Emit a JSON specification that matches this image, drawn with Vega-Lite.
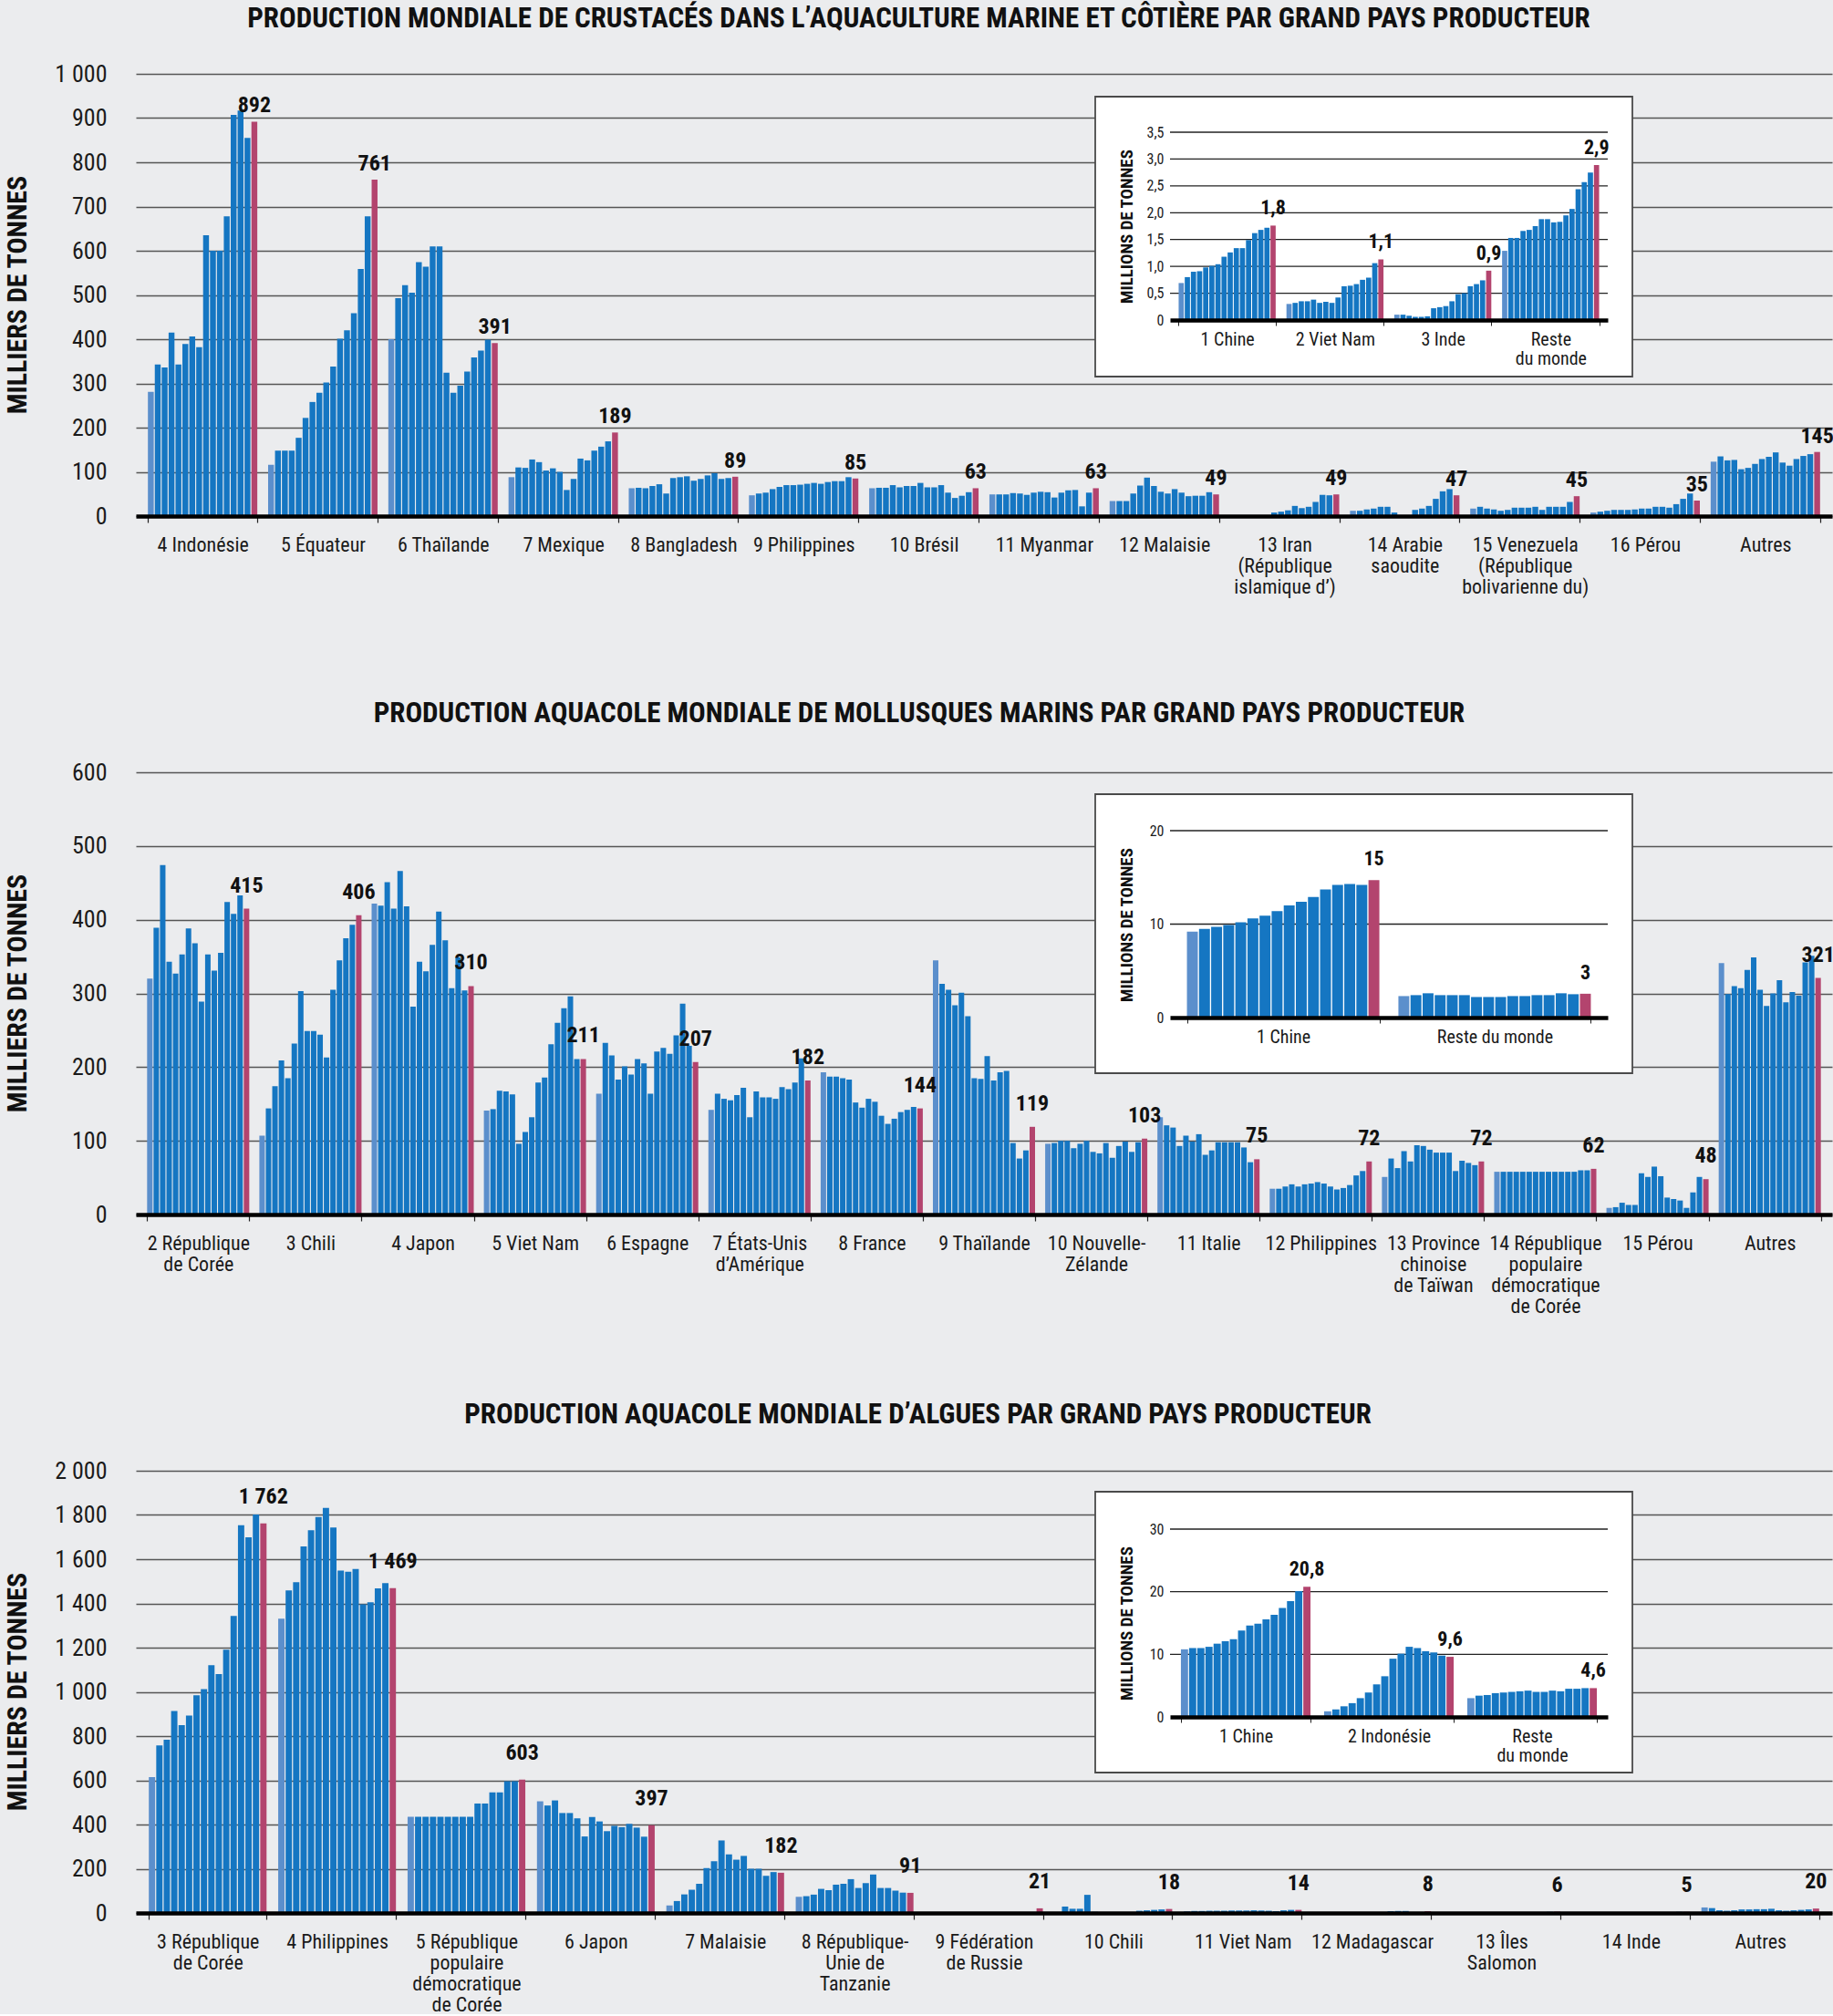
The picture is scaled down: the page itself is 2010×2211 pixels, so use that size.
{
"$schema": "https://vega.github.io/schema/vega-lite/v6.json",
"background": "#ebecee",
"padding": {"left": 3, "top": 5, "right": 0, "bottom": 0},
"spacing": 281,
"bounds": "flush",
"config": {
  "view": {"stroke": null},
  "font": "Liberation Sans Narrow, Roboto Condensed, DejaVu Sans Condensed, Arial Narrow, sans-serif",
  "locale": {"number": {"decimal": ",", "thousands": "\u00a0", "grouping": [3], "currency": ["", "\u00a0€"]}},
  "title": {"fontSize": 31, "fontWeight": "bold", "color": "#111111", "anchor": "middle", "baseline": "alphabetic", "frame": "bounds"}
},
"datasets": {
"crust": [
{"g":"4 Indonésie","t":1995,"v":281},{"g":"4 Indonésie","t":1996,"v":343},{"g":"4 Indonésie","t":1997,"v":336},{"g":"4 Indonésie","t":1998,"v":415},{"g":"4 Indonésie","t":1999,"v":343},{"g":"4 Indonésie","t":2000,"v":389},{"g":"4 Indonésie","t":2001,"v":406},{"g":"4 Indonésie","t":2002,"v":382},{"g":"4 Indonésie","t":2003,"v":635},{"g":"4 Indonésie","t":2004,"v":600},{"g":"4 Indonésie","t":2005,"v":600},{"g":"4 Indonésie","t":2006,"v":678},{"g":"4 Indonésie","t":2007,"v":907},{"g":"4 Indonésie","t":2008,"v":917},{"g":"4 Indonésie","t":2009,"v":855},{"g":"4 Indonésie","t":2010,"v":892},
{"g":"5 Équateur","t":1995,"v":116},{"g":"5 Équateur","t":1996,"v":148},{"g":"5 Équateur","t":1997,"v":148},{"g":"5 Équateur","t":1998,"v":148},{"g":"5 Équateur","t":1999,"v":177},{"g":"5 Équateur","t":2000,"v":222},{"g":"5 Équateur","t":2001,"v":258},{"g":"5 Équateur","t":2002,"v":279},{"g":"5 Équateur","t":2003,"v":302},{"g":"5 Équateur","t":2004,"v":338},{"g":"5 Équateur","t":2005,"v":401},{"g":"5 Équateur","t":2006,"v":420},{"g":"5 Équateur","t":2007,"v":459},{"g":"5 Équateur","t":2008,"v":559},{"g":"5 Équateur","t":2009,"v":678},{"g":"5 Équateur","t":2010,"v":761},
{"g":"6 Thaïlande","t":1995,"v":400},{"g":"6 Thaïlande","t":1996,"v":493},{"g":"6 Thaïlande","t":1997,"v":522},{"g":"6 Thaïlande","t":1998,"v":505},{"g":"6 Thaïlande","t":1999,"v":574},{"g":"6 Thaïlande","t":2000,"v":564},{"g":"6 Thaïlande","t":2001,"v":610},{"g":"6 Thaïlande","t":2002,"v":610},{"g":"6 Thaïlande","t":2003,"v":324},{"g":"6 Thaïlande","t":2004,"v":279},{"g":"6 Thaïlande","t":2005,"v":295},{"g":"6 Thaïlande","t":2006,"v":327},{"g":"6 Thaïlande","t":2007,"v":359},{"g":"6 Thaïlande","t":2008,"v":374},{"g":"6 Thaïlande","t":2009,"v":399},{"g":"6 Thaïlande","t":2010,"v":391},
{"g":"7 Mexique","t":1995,"v":88},{"g":"7 Mexique","t":1996,"v":110},{"g":"7 Mexique","t":1997,"v":109},{"g":"7 Mexique","t":1998,"v":128},{"g":"7 Mexique","t":1999,"v":122},{"g":"7 Mexique","t":2000,"v":103},{"g":"7 Mexique","t":2001,"v":108},{"g":"7 Mexique","t":2002,"v":100},{"g":"7 Mexique","t":2003,"v":59},{"g":"7 Mexique","t":2004,"v":84},{"g":"7 Mexique","t":2005,"v":130},{"g":"7 Mexique","t":2006,"v":126},{"g":"7 Mexique","t":2007,"v":148},{"g":"7 Mexique","t":2008,"v":157},{"g":"7 Mexique","t":2009,"v":169},{"g":"7 Mexique","t":2010,"v":189},
{"g":"8 Bangladesh","t":1995,"v":63},{"g":"8 Bangladesh","t":1996,"v":64},{"g":"8 Bangladesh","t":1997,"v":63},{"g":"8 Bangladesh","t":1998,"v":68},{"g":"8 Bangladesh","t":1999,"v":72},{"g":"8 Bangladesh","t":2000,"v":51},{"g":"8 Bangladesh","t":2001,"v":86},{"g":"8 Bangladesh","t":2002,"v":88},{"g":"8 Bangladesh","t":2003,"v":90},{"g":"8 Bangladesh","t":2004,"v":80},{"g":"8 Bangladesh","t":2005,"v":84},{"g":"8 Bangladesh","t":2006,"v":92},{"g":"8 Bangladesh","t":2007,"v":97},{"g":"8 Bangladesh","t":2008,"v":84},{"g":"8 Bangladesh","t":2009,"v":86},{"g":"8 Bangladesh","t":2010,"v":89},
{"g":"9 Philippines","t":1995,"v":47},{"g":"9 Philippines","t":1996,"v":51},{"g":"9 Philippines","t":1997,"v":53},{"g":"9 Philippines","t":1998,"v":61},{"g":"9 Philippines","t":1999,"v":66},{"g":"9 Philippines","t":2000,"v":70},{"g":"9 Philippines","t":2001,"v":70},{"g":"9 Philippines","t":2002,"v":71},{"g":"9 Philippines","t":2003,"v":73},{"g":"9 Philippines","t":2004,"v":75},{"g":"9 Philippines","t":2005,"v":73},{"g":"9 Philippines","t":2006,"v":77},{"g":"9 Philippines","t":2007,"v":79},{"g":"9 Philippines","t":2008,"v":79},{"g":"9 Philippines","t":2009,"v":88},{"g":"9 Philippines","t":2010,"v":85},
{"g":"10 Brésil","t":1995,"v":63},{"g":"10 Brésil","t":1996,"v":64},{"g":"10 Brésil","t":1997,"v":64},{"g":"10 Brésil","t":1998,"v":70},{"g":"10 Brésil","t":1999,"v":65},{"g":"10 Brésil","t":2000,"v":68},{"g":"10 Brésil","t":2001,"v":68},{"g":"10 Brésil","t":2002,"v":75},{"g":"10 Brésil","t":2003,"v":65},{"g":"10 Brésil","t":2004,"v":65},{"g":"10 Brésil","t":2005,"v":70},{"g":"10 Brésil","t":2006,"v":53},{"g":"10 Brésil","t":2007,"v":41},{"g":"10 Brésil","t":2008,"v":46},{"g":"10 Brésil","t":2009,"v":54},{"g":"10 Brésil","t":2010,"v":63},
{"g":"11 Myanmar","t":1995,"v":49},{"g":"11 Myanmar","t":1996,"v":49},{"g":"11 Myanmar","t":1997,"v":49},{"g":"11 Myanmar","t":1998,"v":52},{"g":"11 Myanmar","t":1999,"v":51},{"g":"11 Myanmar","t":2000,"v":48},{"g":"11 Myanmar","t":2001,"v":53},{"g":"11 Myanmar","t":2002,"v":55},{"g":"11 Myanmar","t":2003,"v":54},{"g":"11 Myanmar","t":2004,"v":42},{"g":"11 Myanmar","t":2005,"v":53},{"g":"11 Myanmar","t":2006,"v":58},{"g":"11 Myanmar","t":2007,"v":59},{"g":"11 Myanmar","t":2008,"v":22},{"g":"11 Myanmar","t":2009,"v":53},{"g":"11 Myanmar","t":2010,"v":63},
{"g":"12 Malaisie","t":1995,"v":34},{"g":"12 Malaisie","t":1996,"v":34},{"g":"12 Malaisie","t":1997,"v":34},{"g":"12 Malaisie","t":1998,"v":51},{"g":"12 Malaisie","t":1999,"v":69},{"g":"12 Malaisie","t":2000,"v":87},{"g":"12 Malaisie","t":2001,"v":68},{"g":"12 Malaisie","t":2002,"v":55},{"g":"12 Malaisie","t":2003,"v":51},{"g":"12 Malaisie","t":2004,"v":61},{"g":"12 Malaisie","t":2005,"v":53},{"g":"12 Malaisie","t":2006,"v":45},{"g":"12 Malaisie","t":2007,"v":46},{"g":"12 Malaisie","t":2008,"v":46},{"g":"12 Malaisie","t":2009,"v":54},{"g":"12 Malaisie","t":2010,"v":49},
{"g":"13 Iran\n(République\nislamique d’)","t":1995,"v":0},{"g":"13 Iran\n(République\nislamique d’)","t":1996,"v":0},{"g":"13 Iran\n(République\nislamique d’)","t":1997,"v":0},{"g":"13 Iran\n(République\nislamique d’)","t":1998,"v":0},{"g":"13 Iran\n(République\nislamique d’)","t":1999,"v":0},{"g":"13 Iran\n(République\nislamique d’)","t":2000,"v":0},{"g":"13 Iran\n(République\nislamique d’)","t":2001,"v":8},{"g":"13 Iran\n(République\nislamique d’)","t":2002,"v":10},{"g":"13 Iran\n(République\nislamique d’)","t":2003,"v":13},{"g":"13 Iran\n(République\nislamique d’)","t":2004,"v":23},{"g":"13 Iran\n(République\nislamique d’)","t":2005,"v":18},{"g":"13 Iran\n(République\nislamique d’)","t":2006,"v":21},{"g":"13 Iran\n(République\nislamique d’)","t":2007,"v":32},{"g":"13 Iran\n(République\nislamique d’)","t":2008,"v":48},{"g":"13 Iran\n(République\nislamique d’)","t":2009,"v":47},{"g":"13 Iran\n(République\nislamique d’)","t":2010,"v":49},
{"g":"14 Arabie\nsaoudite","t":1995,"v":12},{"g":"14 Arabie\nsaoudite","t":1996,"v":12},{"g":"14 Arabie\nsaoudite","t":1997,"v":15},{"g":"14 Arabie\nsaoudite","t":1998,"v":17},{"g":"14 Arabie\nsaoudite","t":1999,"v":21},{"g":"14 Arabie\nsaoudite","t":2000,"v":21},{"g":"14 Arabie\nsaoudite","t":2001,"v":8},{"g":"14 Arabie\nsaoudite","t":2002,"v":0},{"g":"14 Arabie\nsaoudite","t":2003,"v":0},{"g":"14 Arabie\nsaoudite","t":2004,"v":14},{"g":"14 Arabie\nsaoudite","t":2005,"v":17},{"g":"14 Arabie\nsaoudite","t":2006,"v":23},{"g":"14 Arabie\nsaoudite","t":2007,"v":39},{"g":"14 Arabie\nsaoudite","t":2008,"v":56},{"g":"14 Arabie\nsaoudite","t":2009,"v":61},{"g":"14 Arabie\nsaoudite","t":2010,"v":47},
{"g":"15 Venezuela\n(République\nbolivarienne du)","t":1995,"v":17},{"g":"15 Venezuela\n(République\nbolivarienne du)","t":1996,"v":21},{"g":"15 Venezuela\n(République\nbolivarienne du)","t":1997,"v":17},{"g":"15 Venezuela\n(République\nbolivarienne du)","t":1998,"v":15},{"g":"15 Venezuela\n(République\nbolivarienne du)","t":1999,"v":12},{"g":"15 Venezuela\n(République\nbolivarienne du)","t":2000,"v":14},{"g":"15 Venezuela\n(République\nbolivarienne du)","t":2001,"v":19},{"g":"15 Venezuela\n(République\nbolivarienne du)","t":2002,"v":19},{"g":"15 Venezuela\n(République\nbolivarienne du)","t":2003,"v":19},{"g":"15 Venezuela\n(République\nbolivarienne du)","t":2004,"v":21},{"g":"15 Venezuela\n(République\nbolivarienne du)","t":2005,"v":14},{"g":"15 Venezuela\n(République\nbolivarienne du)","t":2006,"v":21},{"g":"15 Venezuela\n(République\nbolivarienne du)","t":2007,"v":21},{"g":"15 Venezuela\n(République\nbolivarienne du)","t":2008,"v":21},{"g":"15 Venezuela\n(République\nbolivarienne du)","t":2009,"v":32},{"g":"15 Venezuela\n(République\nbolivarienne du)","t":2010,"v":45},
{"g":"16 Pérou","t":1995,"v":8},{"g":"16 Pérou","t":1996,"v":10},{"g":"16 Pérou","t":1997,"v":12},{"g":"16 Pérou","t":1998,"v":14},{"g":"16 Pérou","t":1999,"v":14},{"g":"16 Pérou","t":2000,"v":14},{"g":"16 Pérou","t":2001,"v":15},{"g":"16 Pérou","t":2002,"v":17},{"g":"16 Pérou","t":2003,"v":17},{"g":"16 Pérou","t":2004,"v":21},{"g":"16 Pérou","t":2005,"v":21},{"g":"16 Pérou","t":2006,"v":19},{"g":"16 Pérou","t":2007,"v":27},{"g":"16 Pérou","t":2008,"v":39},{"g":"16 Pérou","t":2009,"v":51},{"g":"16 Pérou","t":2010,"v":35},
{"g":"Autres","t":1995,"v":123},{"g":"Autres","t":1996,"v":135},{"g":"Autres","t":1997,"v":126},{"g":"Autres","t":1998,"v":127},{"g":"Autres","t":1999,"v":106},{"g":"Autres","t":2000,"v":109},{"g":"Autres","t":2001,"v":118},{"g":"Autres","t":2002,"v":129},{"g":"Autres","t":2003,"v":134},{"g":"Autres","t":2004,"v":144},{"g":"Autres","t":2005,"v":121},{"g":"Autres","t":2006,"v":114},{"g":"Autres","t":2007,"v":129},{"g":"Autres","t":2008,"v":136},{"g":"Autres","t":2009,"v":140},{"g":"Autres","t":2010,"v":145}
],
"crustIn": [
{"g":"1 Chine","t":1995,"v":0.69},{"g":"1 Chine","t":1996,"v":0.80},{"g":"1 Chine","t":1997,"v":0.90},{"g":"1 Chine","t":1998,"v":0.91},{"g":"1 Chine","t":1999,"v":0.98},{"g":"1 Chine","t":2000,"v":1.01},{"g":"1 Chine","t":2001,"v":1.04},{"g":"1 Chine","t":2002,"v":1.18},{"g":"1 Chine","t":2003,"v":1.26},{"g":"1 Chine","t":2004,"v":1.34},{"g":"1 Chine","t":2005,"v":1.34},{"g":"1 Chine","t":2006,"v":1.49},{"g":"1 Chine","t":2007,"v":1.62},{"g":"1 Chine","t":2008,"v":1.68},{"g":"1 Chine","t":2009,"v":1.72},{"g":"1 Chine","t":2010,"v":1.76},
{"g":"2 Viet Nam","t":1995,"v":0.30},{"g":"2 Viet Nam","t":1996,"v":0.32},{"g":"2 Viet Nam","t":1997,"v":0.35},{"g":"2 Viet Nam","t":1998,"v":0.35},{"g":"2 Viet Nam","t":1999,"v":0.38},{"g":"2 Viet Nam","t":2000,"v":0.32},{"g":"2 Viet Nam","t":2001,"v":0.34},{"g":"2 Viet Nam","t":2002,"v":0.32},{"g":"2 Viet Nam","t":2003,"v":0.42},{"g":"2 Viet Nam","t":2004,"v":0.63},{"g":"2 Viet Nam","t":2005,"v":0.64},{"g":"2 Viet Nam","t":2006,"v":0.67},{"g":"2 Viet Nam","t":2007,"v":0.75},{"g":"2 Viet Nam","t":2008,"v":0.79},{"g":"2 Viet Nam","t":2009,"v":1.06},{"g":"2 Viet Nam","t":2010,"v":1.13},
{"g":"3 Inde","t":1995,"v":0.10},{"g":"3 Inde","t":1996,"v":0.10},{"g":"3 Inde","t":1997,"v":0.08},{"g":"3 Inde","t":1998,"v":0.06},{"g":"3 Inde","t":1999,"v":0.06},{"g":"3 Inde","t":2000,"v":0.07},{"g":"3 Inde","t":2001,"v":0.22},{"g":"3 Inde","t":2002,"v":0.24},{"g":"3 Inde","t":2003,"v":0.26},{"g":"3 Inde","t":2004,"v":0.35},{"g":"3 Inde","t":2005,"v":0.48},{"g":"3 Inde","t":2006,"v":0.50},{"g":"3 Inde","t":2007,"v":0.63},{"g":"3 Inde","t":2008,"v":0.67},{"g":"3 Inde","t":2009,"v":0.74},{"g":"3 Inde","t":2010,"v":0.92},
{"g":"Reste\ndu monde","t":1995,"v":1.29},{"g":"Reste\ndu monde","t":1996,"v":1.53},{"g":"Reste\ndu monde","t":1997,"v":1.53},{"g":"Reste\ndu monde","t":1998,"v":1.66},{"g":"Reste\ndu monde","t":1999,"v":1.68},{"g":"Reste\ndu monde","t":2000,"v":1.75},{"g":"Reste\ndu monde","t":2001,"v":1.88},{"g":"Reste\ndu monde","t":2002,"v":1.88},{"g":"Reste\ndu monde","t":2003,"v":1.82},{"g":"Reste\ndu monde","t":2004,"v":1.83},{"g":"Reste\ndu monde","t":2005,"v":1.95},{"g":"Reste\ndu monde","t":2006,"v":2.07},{"g":"Reste\ndu monde","t":2007,"v":2.44},{"g":"Reste\ndu monde","t":2008,"v":2.57},{"g":"Reste\ndu monde","t":2009,"v":2.75},{"g":"Reste\ndu monde","t":2010,"v":2.89}
],
"moll": [
{"g":"2 République\nde Corée","t":1995,"v":320},{"g":"2 République\nde Corée","t":1996,"v":389},{"g":"2 République\nde Corée","t":1997,"v":474},{"g":"2 République\nde Corée","t":1998,"v":343},{"g":"2 République\nde Corée","t":1999,"v":327},{"g":"2 République\nde Corée","t":2000,"v":353},{"g":"2 République\nde Corée","t":2001,"v":388},{"g":"2 République\nde Corée","t":2002,"v":368},{"g":"2 République\nde Corée","t":2003,"v":289},{"g":"2 République\nde Corée","t":2004,"v":353},{"g":"2 République\nde Corée","t":2005,"v":331},{"g":"2 République\nde Corée","t":2006,"v":355},{"g":"2 République\nde Corée","t":2007,"v":424},{"g":"2 République\nde Corée","t":2008,"v":408},{"g":"2 République\nde Corée","t":2009,"v":433},{"g":"2 République\nde Corée","t":2010,"v":415},
{"g":"3 Chili","t":1995,"v":107},{"g":"3 Chili","t":1996,"v":144},{"g":"3 Chili","t":1997,"v":174},{"g":"3 Chili","t":1998,"v":209},{"g":"3 Chili","t":1999,"v":185},{"g":"3 Chili","t":2000,"v":232},{"g":"3 Chili","t":2001,"v":303},{"g":"3 Chili","t":2002,"v":249},{"g":"3 Chili","t":2003,"v":249},{"g":"3 Chili","t":2004,"v":244},{"g":"3 Chili","t":2005,"v":213},{"g":"3 Chili","t":2006,"v":305},{"g":"3 Chili","t":2007,"v":345},{"g":"3 Chili","t":2008,"v":375},{"g":"3 Chili","t":2009,"v":393},{"g":"3 Chili","t":2010,"v":406},
{"g":"4 Japon","t":1995,"v":422},{"g":"4 Japon","t":1996,"v":419},{"g":"4 Japon","t":1997,"v":451},{"g":"4 Japon","t":1998,"v":415},{"g":"4 Japon","t":1999,"v":466},{"g":"4 Japon","t":2000,"v":418},{"g":"4 Japon","t":2001,"v":282},{"g":"4 Japon","t":2002,"v":343},{"g":"4 Japon","t":2003,"v":330},{"g":"4 Japon","t":2004,"v":366},{"g":"4 Japon","t":2005,"v":411},{"g":"4 Japon","t":2006,"v":372},{"g":"4 Japon","t":2007,"v":307},{"g":"4 Japon","t":2008,"v":349},{"g":"4 Japon","t":2009,"v":304},{"g":"4 Japon","t":2010,"v":310},
{"g":"5 Viet Nam","t":1995,"v":141},{"g":"5 Viet Nam","t":1996,"v":143},{"g":"5 Viet Nam","t":1997,"v":168},{"g":"5 Viet Nam","t":1998,"v":167},{"g":"5 Viet Nam","t":1999,"v":163},{"g":"5 Viet Nam","t":2000,"v":96},{"g":"5 Viet Nam","t":2001,"v":112},{"g":"5 Viet Nam","t":2002,"v":132},{"g":"5 Viet Nam","t":2003,"v":179},{"g":"5 Viet Nam","t":2004,"v":186},{"g":"5 Viet Nam","t":2005,"v":231},{"g":"5 Viet Nam","t":2006,"v":260},{"g":"5 Viet Nam","t":2007,"v":280},{"g":"5 Viet Nam","t":2008,"v":296},{"g":"5 Viet Nam","t":2009,"v":211},{"g":"5 Viet Nam","t":2010,"v":211},
{"g":"6 Espagne","t":1995,"v":164},{"g":"6 Espagne","t":1996,"v":233},{"g":"6 Espagne","t":1997,"v":216},{"g":"6 Espagne","t":1998,"v":183},{"g":"6 Espagne","t":1999,"v":201},{"g":"6 Espagne","t":2000,"v":190},{"g":"6 Espagne","t":2001,"v":211},{"g":"6 Espagne","t":2002,"v":205},{"g":"6 Espagne","t":2003,"v":164},{"g":"6 Espagne","t":2004,"v":221},{"g":"6 Espagne","t":2005,"v":226},{"g":"6 Espagne","t":2006,"v":218},{"g":"6 Espagne","t":2007,"v":243},{"g":"6 Espagne","t":2008,"v":286},{"g":"6 Espagne","t":2009,"v":229},{"g":"6 Espagne","t":2010,"v":207},
{"g":"7 États-Unis\nd’Amérique","t":1995,"v":142},{"g":"7 États-Unis\nd’Amérique","t":1996,"v":164},{"g":"7 États-Unis\nd’Amérique","t":1997,"v":157},{"g":"7 États-Unis\nd’Amérique","t":1998,"v":155},{"g":"7 États-Unis\nd’Amérique","t":1999,"v":162},{"g":"7 États-Unis\nd’Amérique","t":2000,"v":172},{"g":"7 États-Unis\nd’Amérique","t":2001,"v":132},{"g":"7 États-Unis\nd’Amérique","t":2002,"v":167},{"g":"7 États-Unis\nd’Amérique","t":2003,"v":159},{"g":"7 États-Unis\nd’Amérique","t":2004,"v":159},{"g":"7 États-Unis\nd’Amérique","t":2005,"v":157},{"g":"7 États-Unis\nd’Amérique","t":2006,"v":173},{"g":"7 États-Unis\nd’Amérique","t":2007,"v":170},{"g":"7 États-Unis\nd’Amérique","t":2008,"v":179},{"g":"7 États-Unis\nd’Amérique","t":2009,"v":212},{"g":"7 États-Unis\nd’Amérique","t":2010,"v":182},
{"g":"8 France","t":1995,"v":193},{"g":"8 France","t":1996,"v":187},{"g":"8 France","t":1997,"v":187},{"g":"8 France","t":1998,"v":185},{"g":"8 France","t":1999,"v":183},{"g":"8 France","t":2000,"v":152},{"g":"8 France","t":2001,"v":145},{"g":"8 France","t":2002,"v":157},{"g":"8 France","t":2003,"v":153},{"g":"8 France","t":2004,"v":134},{"g":"8 France","t":2005,"v":123},{"g":"8 France","t":2006,"v":130},{"g":"8 France","t":2007,"v":139},{"g":"8 France","t":2008,"v":142},{"g":"8 France","t":2009,"v":146},{"g":"8 France","t":2010,"v":144},
{"g":"9 Thaïlande","t":1995,"v":345},{"g":"9 Thaïlande","t":1996,"v":313},{"g":"9 Thaïlande","t":1997,"v":305},{"g":"9 Thaïlande","t":1998,"v":284},{"g":"9 Thaïlande","t":1999,"v":301},{"g":"9 Thaïlande","t":2000,"v":269},{"g":"9 Thaïlande","t":2001,"v":185},{"g":"9 Thaïlande","t":2002,"v":184},{"g":"9 Thaïlande","t":2003,"v":215},{"g":"9 Thaïlande","t":2004,"v":182},{"g":"9 Thaïlande","t":2005,"v":193},{"g":"9 Thaïlande","t":2006,"v":195},{"g":"9 Thaïlande","t":2007,"v":97},{"g":"9 Thaïlande","t":2008,"v":76},{"g":"9 Thaïlande","t":2009,"v":87},{"g":"9 Thaïlande","t":2010,"v":119},
{"g":"10 Nouvelle-\nZélande","t":1995,"v":96},{"g":"10 Nouvelle-\nZélande","t":1996,"v":97},{"g":"10 Nouvelle-\nZélande","t":1997,"v":100},{"g":"10 Nouvelle-\nZélande","t":1998,"v":100},{"g":"10 Nouvelle-\nZélande","t":1999,"v":90},{"g":"10 Nouvelle-\nZélande","t":2000,"v":96},{"g":"10 Nouvelle-\nZélande","t":2001,"v":100},{"g":"10 Nouvelle-\nZélande","t":2002,"v":85},{"g":"10 Nouvelle-\nZélande","t":2003,"v":83},{"g":"10 Nouvelle-\nZélande","t":2004,"v":97},{"g":"10 Nouvelle-\nZélande","t":2005,"v":77},{"g":"10 Nouvelle-\nZélande","t":2006,"v":93},{"g":"10 Nouvelle-\nZélande","t":2007,"v":99},{"g":"10 Nouvelle-\nZélande","t":2008,"v":85},{"g":"10 Nouvelle-\nZélande","t":2009,"v":98},{"g":"10 Nouvelle-\nZélande","t":2010,"v":103},
{"g":"11 Italie","t":1995,"v":132},{"g":"11 Italie","t":1996,"v":121},{"g":"11 Italie","t":1997,"v":118},{"g":"11 Italie","t":1998,"v":93},{"g":"11 Italie","t":1999,"v":107},{"g":"11 Italie","t":2000,"v":99},{"g":"11 Italie","t":2001,"v":109},{"g":"11 Italie","t":2002,"v":81},{"g":"11 Italie","t":2003,"v":87},{"g":"11 Italie","t":2004,"v":98},{"g":"11 Italie","t":2005,"v":98},{"g":"11 Italie","t":2006,"v":98},{"g":"11 Italie","t":2007,"v":98},{"g":"11 Italie","t":2008,"v":91},{"g":"11 Italie","t":2009,"v":71},{"g":"11 Italie","t":2010,"v":75},
{"g":"12 Philippines","t":1995,"v":35},{"g":"12 Philippines","t":1996,"v":35},{"g":"12 Philippines","t":1997,"v":38},{"g":"12 Philippines","t":1998,"v":41},{"g":"12 Philippines","t":1999,"v":38},{"g":"12 Philippines","t":2000,"v":41},{"g":"12 Philippines","t":2001,"v":42},{"g":"12 Philippines","t":2002,"v":44},{"g":"12 Philippines","t":2003,"v":42},{"g":"12 Philippines","t":2004,"v":38},{"g":"12 Philippines","t":2005,"v":34},{"g":"12 Philippines","t":2006,"v":36},{"g":"12 Philippines","t":2007,"v":40},{"g":"12 Philippines","t":2008,"v":53},{"g":"12 Philippines","t":2009,"v":59},{"g":"12 Philippines","t":2010,"v":72},
{"g":"13 Province\nchinoise\nde Taïwan","t":1995,"v":51},{"g":"13 Province\nchinoise\nde Taïwan","t":1996,"v":76},{"g":"13 Province\nchinoise\nde Taïwan","t":1997,"v":63},{"g":"13 Province\nchinoise\nde Taïwan","t":1998,"v":86},{"g":"13 Province\nchinoise\nde Taïwan","t":1999,"v":72},{"g":"13 Province\nchinoise\nde Taïwan","t":2000,"v":94},{"g":"13 Province\nchinoise\nde Taïwan","t":2001,"v":93},{"g":"13 Province\nchinoise\nde Taïwan","t":2002,"v":88},{"g":"13 Province\nchinoise\nde Taïwan","t":2003,"v":84},{"g":"13 Province\nchinoise\nde Taïwan","t":2004,"v":84},{"g":"13 Province\nchinoise\nde Taïwan","t":2005,"v":84},{"g":"13 Province\nchinoise\nde Taïwan","t":2006,"v":59},{"g":"13 Province\nchinoise\nde Taïwan","t":2007,"v":73},{"g":"13 Province\nchinoise\nde Taïwan","t":2008,"v":70},{"g":"13 Province\nchinoise\nde Taïwan","t":2009,"v":67},{"g":"13 Province\nchinoise\nde Taïwan","t":2010,"v":72},
{"g":"14 République\npopulaire\ndémocratique\nde Corée","t":1995,"v":58},{"g":"14 République\npopulaire\ndémocratique\nde Corée","t":1996,"v":58},{"g":"14 République\npopulaire\ndémocratique\nde Corée","t":1997,"v":58},{"g":"14 République\npopulaire\ndémocratique\nde Corée","t":1998,"v":58},{"g":"14 République\npopulaire\ndémocratique\nde Corée","t":1999,"v":58},{"g":"14 République\npopulaire\ndémocratique\nde Corée","t":2000,"v":58},{"g":"14 République\npopulaire\ndémocratique\nde Corée","t":2001,"v":58},{"g":"14 République\npopulaire\ndémocratique\nde Corée","t":2002,"v":58},{"g":"14 République\npopulaire\ndémocratique\nde Corée","t":2003,"v":58},{"g":"14 République\npopulaire\ndémocratique\nde Corée","t":2004,"v":58},{"g":"14 République\npopulaire\ndémocratique\nde Corée","t":2005,"v":58},{"g":"14 République\npopulaire\ndémocratique\nde Corée","t":2006,"v":58},{"g":"14 République\npopulaire\ndémocratique\nde Corée","t":2007,"v":58},{"g":"14 République\npopulaire\ndémocratique\nde Corée","t":2008,"v":60},{"g":"14 République\npopulaire\ndémocratique\nde Corée","t":2009,"v":60},{"g":"14 République\npopulaire\ndémocratique\nde Corée","t":2010,"v":62},
{"g":"15 Pérou","t":1995,"v":9},{"g":"15 Pérou","t":1996,"v":10},{"g":"15 Pérou","t":1997,"v":16},{"g":"15 Pérou","t":1998,"v":13},{"g":"15 Pérou","t":1999,"v":13},{"g":"15 Pérou","t":2000,"v":56},{"g":"15 Pérou","t":2001,"v":51},{"g":"15 Pérou","t":2002,"v":65},{"g":"15 Pérou","t":2003,"v":52},{"g":"15 Pérou","t":2004,"v":23},{"g":"15 Pérou","t":2005,"v":21},{"g":"15 Pérou","t":2006,"v":19},{"g":"15 Pérou","t":2007,"v":9},{"g":"15 Pérou","t":2008,"v":30},{"g":"15 Pérou","t":2009,"v":51},{"g":"15 Pérou","t":2010,"v":48},
{"g":"Autres","t":1995,"v":341},{"g":"Autres","t":1996,"v":299},{"g":"Autres","t":1997,"v":310},{"g":"Autres","t":1998,"v":307},{"g":"Autres","t":1999,"v":332},{"g":"Autres","t":2000,"v":349},{"g":"Autres","t":2001,"v":305},{"g":"Autres","t":2002,"v":283},{"g":"Autres","t":2003,"v":300},{"g":"Autres","t":2004,"v":318},{"g":"Autres","t":2005,"v":288},{"g":"Autres","t":2006,"v":302},{"g":"Autres","t":2007,"v":297},{"g":"Autres","t":2008,"v":342},{"g":"Autres","t":2009,"v":351},{"g":"Autres","t":2010,"v":321}
],
"mollIn": [
{"g":"1 Chine","t":1995,"v":9.2},{"g":"1 Chine","t":1996,"v":9.5},{"g":"1 Chine","t":1997,"v":9.7},{"g":"1 Chine","t":1998,"v":9.9},{"g":"1 Chine","t":1999,"v":10.2},{"g":"1 Chine","t":2000,"v":10.6},{"g":"1 Chine","t":2001,"v":10.9},{"g":"1 Chine","t":2002,"v":11.4},{"g":"1 Chine","t":2003,"v":12.0},{"g":"1 Chine","t":2004,"v":12.4},{"g":"1 Chine","t":2005,"v":12.9},{"g":"1 Chine","t":2006,"v":13.7},{"g":"1 Chine","t":2007,"v":14.2},{"g":"1 Chine","t":2008,"v":14.3},{"g":"1 Chine","t":2009,"v":14.2},{"g":"1 Chine","t":2010,"v":14.7},
{"g":"Reste du monde","t":1995,"v":2.3},{"g":"Reste du monde","t":1996,"v":2.4},{"g":"Reste du monde","t":1997,"v":2.6},{"g":"Reste du monde","t":1998,"v":2.4},{"g":"Reste du monde","t":1999,"v":2.4},{"g":"Reste du monde","t":2000,"v":2.4},{"g":"Reste du monde","t":2001,"v":2.2},{"g":"Reste du monde","t":2002,"v":2.2},{"g":"Reste du monde","t":2003,"v":2.2},{"g":"Reste du monde","t":2004,"v":2.3},{"g":"Reste du monde","t":2005,"v":2.3},{"g":"Reste du monde","t":2006,"v":2.4},{"g":"Reste du monde","t":2007,"v":2.4},{"g":"Reste du monde","t":2008,"v":2.6},{"g":"Reste du monde","t":2009,"v":2.5},{"g":"Reste du monde","t":2010,"v":2.55}
],
"alg": [
{"g":"3 République\nde Corée","t":1995,"v":614},{"g":"3 République\nde Corée","t":1996,"v":758},{"g":"3 République\nde Corée","t":1997,"v":784},{"g":"3 République\nde Corée","t":1998,"v":913},{"g":"3 République\nde Corée","t":1999,"v":850},{"g":"3 République\nde Corée","t":2000,"v":893},{"g":"3 République\nde Corée","t":2001,"v":985},{"g":"3 République\nde Corée","t":2002,"v":1012},{"g":"3 République\nde Corée","t":2003,"v":1121},{"g":"3 République\nde Corée","t":2004,"v":1080},{"g":"3 République\nde Corée","t":2005,"v":1191},{"g":"3 République\nde Corée","t":2006,"v":1343},{"g":"3 République\nde Corée","t":2007,"v":1754},{"g":"3 République\nde Corée","t":2008,"v":1699},{"g":"3 République\nde Corée","t":2009,"v":1802},{"g":"3 République\nde Corée","t":2010,"v":1762},
{"g":"4 Philippines","t":1995,"v":1331},{"g":"4 Philippines","t":1996,"v":1459},{"g":"4 Philippines","t":1997,"v":1496},{"g":"4 Philippines","t":1998,"v":1658},{"g":"4 Philippines","t":1999,"v":1731},{"g":"4 Philippines","t":2000,"v":1791},{"g":"4 Philippines","t":2001,"v":1832},{"g":"4 Philippines","t":2002,"v":1743},{"g":"4 Philippines","t":2003,"v":1548},{"g":"4 Philippines","t":2004,"v":1543},{"g":"4 Philippines","t":2005,"v":1556},{"g":"4 Philippines","t":2006,"v":1396},{"g":"4 Philippines","t":2007,"v":1405},{"g":"4 Philippines","t":2008,"v":1468},{"g":"4 Philippines","t":2009,"v":1492},{"g":"4 Philippines","t":2010,"v":1469},
{"g":"5 République\npopulaire\ndémocratique\nde Corée","t":1995,"v":435},{"g":"5 République\npopulaire\ndémocratique\nde Corée","t":1996,"v":435},{"g":"5 République\npopulaire\ndémocratique\nde Corée","t":1997,"v":435},{"g":"5 République\npopulaire\ndémocratique\nde Corée","t":1998,"v":435},{"g":"5 République\npopulaire\ndémocratique\nde Corée","t":1999,"v":435},{"g":"5 République\npopulaire\ndémocratique\nde Corée","t":2000,"v":435},{"g":"5 République\npopulaire\ndémocratique\nde Corée","t":2001,"v":435},{"g":"5 République\npopulaire\ndémocratique\nde Corée","t":2002,"v":435},{"g":"5 République\npopulaire\ndémocratique\nde Corée","t":2003,"v":435},{"g":"5 République\npopulaire\ndémocratique\nde Corée","t":2004,"v":495},{"g":"5 République\npopulaire\ndémocratique\nde Corée","t":2005,"v":495},{"g":"5 République\npopulaire\ndémocratique\nde Corée","t":2006,"v":545},{"g":"5 République\npopulaire\ndémocratique\nde Corée","t":2007,"v":545},{"g":"5 République\npopulaire\ndémocratique\nde Corée","t":2008,"v":596},{"g":"5 République\npopulaire\ndémocratique\nde Corée","t":2009,"v":596},{"g":"5 République\npopulaire\ndémocratique\nde Corée","t":2010,"v":603},
{"g":"6 Japon","t":1995,"v":505},{"g":"6 Japon","t":1996,"v":486},{"g":"6 Japon","t":1997,"v":509},{"g":"6 Japon","t":1998,"v":452},{"g":"6 Japon","t":1999,"v":452},{"g":"6 Japon","t":2000,"v":428},{"g":"6 Japon","t":2001,"v":346},{"g":"6 Japon","t":2002,"v":434},{"g":"6 Japon","t":2003,"v":414},{"g":"6 Japon","t":2004,"v":370},{"g":"6 Japon","t":2005,"v":394},{"g":"6 Japon","t":2006,"v":388},{"g":"6 Japon","t":2007,"v":403},{"g":"6 Japon","t":2008,"v":386},{"g":"6 Japon","t":2009,"v":345},{"g":"6 Japon","t":2010,"v":397},
{"g":"7 Malaisie","t":1995,"v":34},{"g":"7 Malaisie","t":1996,"v":54},{"g":"7 Malaisie","t":1997,"v":84},{"g":"7 Malaisie","t":1998,"v":105},{"g":"7 Malaisie","t":1999,"v":132},{"g":"7 Malaisie","t":2000,"v":203},{"g":"7 Malaisie","t":2001,"v":234},{"g":"7 Malaisie","t":2002,"v":328},{"g":"7 Malaisie","t":2003,"v":265},{"g":"7 Malaisie","t":2004,"v":241},{"g":"7 Malaisie","t":2005,"v":258},{"g":"7 Malaisie","t":2006,"v":200},{"g":"7 Malaisie","t":2007,"v":200},{"g":"7 Malaisie","t":2008,"v":168},{"g":"7 Malaisie","t":2009,"v":185},{"g":"7 Malaisie","t":2010,"v":182},
{"g":"8 République-\nUnie de\nTanzanie","t":1995,"v":73},{"g":"8 République-\nUnie de\nTanzanie","t":1996,"v":76},{"g":"8 République-\nUnie de\nTanzanie","t":1997,"v":83},{"g":"8 République-\nUnie de\nTanzanie","t":1998,"v":109},{"g":"8 République-\nUnie de\nTanzanie","t":1999,"v":103},{"g":"8 République-\nUnie de\nTanzanie","t":2000,"v":128},{"g":"8 République-\nUnie de\nTanzanie","t":2001,"v":132},{"g":"8 République-\nUnie de\nTanzanie","t":2002,"v":153},{"g":"8 République-\nUnie de\nTanzanie","t":2003,"v":113},{"g":"8 République-\nUnie de\nTanzanie","t":2004,"v":135},{"g":"8 République-\nUnie de\nTanzanie","t":2005,"v":174},{"g":"8 République-\nUnie de\nTanzanie","t":2006,"v":113},{"g":"8 République-\nUnie de\nTanzanie","t":2007,"v":113},{"g":"8 République-\nUnie de\nTanzanie","t":2008,"v":101},{"g":"8 République-\nUnie de\nTanzanie","t":2009,"v":92},{"g":"8 République-\nUnie de\nTanzanie","t":2010,"v":91},
{"g":"9 Fédération\nde Russie","t":1995,"v":0},{"g":"9 Fédération\nde Russie","t":1996,"v":0},{"g":"9 Fédération\nde Russie","t":1997,"v":0},{"g":"9 Fédération\nde Russie","t":1998,"v":0},{"g":"9 Fédération\nde Russie","t":1999,"v":0},{"g":"9 Fédération\nde Russie","t":2000,"v":0},{"g":"9 Fédération\nde Russie","t":2001,"v":0},{"g":"9 Fédération\nde Russie","t":2002,"v":0},{"g":"9 Fédération\nde Russie","t":2003,"v":0},{"g":"9 Fédération\nde Russie","t":2004,"v":0},{"g":"9 Fédération\nde Russie","t":2005,"v":0},{"g":"9 Fédération\nde Russie","t":2006,"v":0},{"g":"9 Fédération\nde Russie","t":2007,"v":0},{"g":"9 Fédération\nde Russie","t":2008,"v":0},{"g":"9 Fédération\nde Russie","t":2009,"v":1},{"g":"9 Fédération\nde Russie","t":2010,"v":21},
{"g":"10 Chili","t":1995,"v":4},{"g":"10 Chili","t":1996,"v":29},{"g":"10 Chili","t":1997,"v":19},{"g":"10 Chili","t":1998,"v":19},{"g":"10 Chili","t":1999,"v":82},{"g":"10 Chili","t":2000,"v":5},{"g":"10 Chili","t":2001,"v":3},{"g":"10 Chili","t":2002,"v":2},{"g":"10 Chili","t":2003,"v":2},{"g":"10 Chili","t":2004,"v":2},{"g":"10 Chili","t":2005,"v":3},{"g":"10 Chili","t":2006,"v":10},{"g":"10 Chili","t":2007,"v":12},{"g":"10 Chili","t":2008,"v":14},{"g":"10 Chili","t":2009,"v":16},{"g":"10 Chili","t":2010,"v":18},
{"g":"11 Viet Nam","t":1995,"v":8},{"g":"11 Viet Nam","t":1996,"v":9},{"g":"11 Viet Nam","t":1997,"v":9},{"g":"11 Viet Nam","t":1998,"v":10},{"g":"11 Viet Nam","t":1999,"v":10},{"g":"11 Viet Nam","t":2000,"v":10},{"g":"11 Viet Nam","t":2001,"v":11},{"g":"11 Viet Nam","t":2002,"v":11},{"g":"11 Viet Nam","t":2003,"v":11},{"g":"11 Viet Nam","t":2004,"v":12},{"g":"11 Viet Nam","t":2005,"v":11},{"g":"11 Viet Nam","t":2006,"v":10},{"g":"11 Viet Nam","t":2007,"v":8},{"g":"11 Viet Nam","t":2008,"v":12},{"g":"11 Viet Nam","t":2009,"v":14},{"g":"11 Viet Nam","t":2010,"v":14},
{"g":"12 Madagascar","t":1995,"v":0},{"g":"12 Madagascar","t":1996,"v":0},{"g":"12 Madagascar","t":1997,"v":0},{"g":"12 Madagascar","t":1998,"v":0},{"g":"12 Madagascar","t":1999,"v":0},{"g":"12 Madagascar","t":2000,"v":0},{"g":"12 Madagascar","t":2001,"v":0},{"g":"12 Madagascar","t":2002,"v":0},{"g":"12 Madagascar","t":2003,"v":0},{"g":"12 Madagascar","t":2004,"v":1},{"g":"12 Madagascar","t":2005,"v":8},{"g":"12 Madagascar","t":2006,"v":9},{"g":"12 Madagascar","t":2007,"v":9},{"g":"12 Madagascar","t":2008,"v":3},{"g":"12 Madagascar","t":2009,"v":3},{"g":"12 Madagascar","t":2010,"v":8},
{"g":"13 Îles\nSalomon","t":1995,"v":0},{"g":"13 Îles\nSalomon","t":1996,"v":0},{"g":"13 Îles\nSalomon","t":1997,"v":0},{"g":"13 Îles\nSalomon","t":1998,"v":0},{"g":"13 Îles\nSalomon","t":1999,"v":0},{"g":"13 Îles\nSalomon","t":2000,"v":0},{"g":"13 Îles\nSalomon","t":2001,"v":0},{"g":"13 Îles\nSalomon","t":2002,"v":0},{"g":"13 Îles\nSalomon","t":2003,"v":1},{"g":"13 Îles\nSalomon","t":2004,"v":2},{"g":"13 Îles\nSalomon","t":2005,"v":3},{"g":"13 Îles\nSalomon","t":2006,"v":3},{"g":"13 Îles\nSalomon","t":2007,"v":4},{"g":"13 Îles\nSalomon","t":2008,"v":4},{"g":"13 Îles\nSalomon","t":2009,"v":5},{"g":"13 Îles\nSalomon","t":2010,"v":6},
{"g":"14 Inde","t":1995,"v":1},{"g":"14 Inde","t":1996,"v":1},{"g":"14 Inde","t":1997,"v":1},{"g":"14 Inde","t":1998,"v":1},{"g":"14 Inde","t":1999,"v":2},{"g":"14 Inde","t":2000,"v":2},{"g":"14 Inde","t":2001,"v":2},{"g":"14 Inde","t":2002,"v":2},{"g":"14 Inde","t":2003,"v":3},{"g":"14 Inde","t":2004,"v":3},{"g":"14 Inde","t":2005,"v":3},{"g":"14 Inde","t":2006,"v":4},{"g":"14 Inde","t":2007,"v":4},{"g":"14 Inde","t":2008,"v":4},{"g":"14 Inde","t":2009,"v":5},{"g":"14 Inde","t":2010,"v":5},
{"g":"Autres","t":1995,"v":25},{"g":"Autres","t":1996,"v":22},{"g":"Autres","t":1997,"v":12},{"g":"Autres","t":1998,"v":10},{"g":"Autres","t":1999,"v":12},{"g":"Autres","t":2000,"v":16},{"g":"Autres","t":2001,"v":16},{"g":"Autres","t":2002,"v":17},{"g":"Autres","t":2003,"v":17},{"g":"Autres","t":2004,"v":19},{"g":"Autres","t":2005,"v":12},{"g":"Autres","t":2006,"v":10},{"g":"Autres","t":2007,"v":12},{"g":"Autres","t":2008,"v":14},{"g":"Autres","t":2009,"v":16},{"g":"Autres","t":2010,"v":20}
],
"algIn": [
{"g":"1 Chine","t":1995,"v":10.8},{"g":"1 Chine","t":1996,"v":11.0},{"g":"1 Chine","t":1997,"v":11.0},{"g":"1 Chine","t":1998,"v":11.2},{"g":"1 Chine","t":1999,"v":11.7},{"g":"1 Chine","t":2000,"v":12.1},{"g":"1 Chine","t":2001,"v":12.4},{"g":"1 Chine","t":2002,"v":13.8},{"g":"1 Chine","t":2003,"v":14.6},{"g":"1 Chine","t":2004,"v":14.9},{"g":"1 Chine","t":2005,"v":15.6},{"g":"1 Chine","t":2006,"v":16.3},{"g":"1 Chine","t":2007,"v":17.4},{"g":"1 Chine","t":2008,"v":18.5},{"g":"1 Chine","t":2009,"v":20.1},{"g":"1 Chine","t":2010,"v":20.8},
{"g":"2 Indonésie","t":1995,"v":0.9},{"g":"2 Indonésie","t":1996,"v":1.2},{"g":"2 Indonésie","t":1997,"v":1.7},{"g":"2 Indonésie","t":1998,"v":2.2},{"g":"2 Indonésie","t":1999,"v":3.0},{"g":"2 Indonésie","t":2000,"v":3.9},{"g":"2 Indonésie","t":2001,"v":5.2},{"g":"2 Indonésie","t":2002,"v":6.5},{"g":"2 Indonésie","t":2003,"v":9.3},{"g":"2 Indonésie","t":2004,"v":10.1},{"g":"2 Indonésie","t":2005,"v":11.2},{"g":"2 Indonésie","t":2006,"v":11.0},{"g":"2 Indonésie","t":2007,"v":10.5},{"g":"2 Indonésie","t":2008,"v":10.3},{"g":"2 Indonésie","t":2009,"v":9.8},{"g":"2 Indonésie","t":2010,"v":9.6},
{"g":"Reste\ndu monde","t":1995,"v":3.0},{"g":"Reste\ndu monde","t":1996,"v":3.4},{"g":"Reste\ndu monde","t":1997,"v":3.5},{"g":"Reste\ndu monde","t":1998,"v":3.8},{"g":"Reste\ndu monde","t":1999,"v":3.9},{"g":"Reste\ndu monde","t":2000,"v":4.0},{"g":"Reste\ndu monde","t":2001,"v":4.1},{"g":"Reste\ndu monde","t":2002,"v":4.2},{"g":"Reste\ndu monde","t":2003,"v":4.0},{"g":"Reste\ndu monde","t":2004,"v":4.0},{"g":"Reste\ndu monde","t":2005,"v":4.2},{"g":"Reste\ndu monde","t":2006,"v":4.1},{"g":"Reste\ndu monde","t":2007,"v":4.5},{"g":"Reste\ndu monde","t":2008,"v":4.5},{"g":"Reste\ndu monde","t":2009,"v":4.6},{"g":"Reste\ndu monde","t":2010,"v":4.6}
]
},
"vconcat": [
{
"title": {"text": "PRODUCTION MONDIALE DE CRUSTACÉS DANS L’AQUACULTURE MARINE ET CÔTIÈRE PAR GRAND PAYS PRODUCTEUR", "offset": 31},
"width": 1860, "height": 485,
"resolve": {"scale": {"x": "independent", "y": "independent", "xOffset": "independent"}, "axis": {"x": "independent", "y": "independent"}},
"layer": [
 {"data": {"name": "crust"},
  "layer": [
   {"mark": {"type": "bar"},
    "encoding": {
     "x": {"field": "g", "type": "nominal", "sort": null, "scale": {"paddingInner": 0.09, "paddingOuter": 0.1},
       "axis": {"title": null, "labelExpr": "split(datum.label, '\\n')", "labelAngle": 0, "labelFontSize": 22, "labelLineHeight": 23, "labelPadding": 14, "labelColor": "#1a1a1a", "labelLimit": 400, "labelOverlap": false, "domainColor": "#000000", "domainWidth": 4.5, "ticks": true, "tickBand": "extent", "tickSize": 7, "tickColor": "#222222", "tickWidth": 1.2, "grid": false, "zindex": 1}},
     "xOffset": {"field": "t", "type": "ordinal", "scale": {"paddingInner": 0.15, "paddingOuter": 0}},
     "y": {"field": "v", "type": "quantitative", "scale": {"domain": [0, 1000], "nice": false},
       "axis": {"title": "MILLIERS DE TONNES", "values": [0,100,200,300,400,500,600,700,800,900,1000], "format": ",d", "grid": true, "gridColor": "#555555", "gridWidth": 1.5, "domain": false, "ticks": false, "tickSize": 0, "labelFontSize": 26, "labelPadding": 32, "labelColor": "#1a1a1a", "titleFontSize": 30, "titleFontWeight": "bold", "titleColor": "#111111", "titleX": -130, "titleY": 242, "titleAngle": -90, "titleBaseline": "middle", "titleAlign": "center"}},
     "color": {"condition": [{"test": "datum.t === 1995", "value": "#5b8fcc"}, {"test": "datum.t === 2010", "value": "#b3446e"}], "value": "#1576c2"}
    }},
   {"transform": [{"filter": "datum.t === 2010"}],
    "mark": {"type": "text", "baseline": "alphabetic", "dy": -10, "fontSize": 24, "fontWeight": "bold", "color": "#111111"},
    "encoding": {
     "x": {"field": "g", "type": "nominal", "sort": null},
     "xOffset": {"field": "t", "type": "ordinal"},
     "y": {"field": "v", "type": "quantitative"},
     "text": {"field": "v", "type": "quantitative", "format": ",d"}
    }}
  ]},
 {"data": {"values": [{}]},
  "mark": {"type": "rect", "fill": "#ffffff", "stroke": "#4a4a4a", "strokeWidth": 1.8},
  "encoding": {
   "x": {"datum": 0, "type": "quantitative", "scale": {"domain": [0, 1], "range": [1052, 1641]}, "axis": null},
   "x2": {"datum": 1},
   "y": {"datum": 0, "type": "quantitative", "scale": {"domain": [0, 1], "range": [332, 25]}, "axis": null},
   "y2": {"datum": 1}
  }},
 {"data": {"values": [{"v": 0.5}, {"v": 1}, {"v": 1.5}, {"v": 2}, {"v": 2.5}, {"v": 3}, {"v": 3.5}]},
  "mark": {"type": "rule", "color": "#222222", "strokeWidth": 1.3},
  "encoding": {
   "y": {"field": "v", "type": "quantitative", "scale": {"domain": [0, 3.5], "range": [270, 64], "nice": false}, "axis": null},
   "x": {"datum": 0, "type": "quantitative", "scale": {"domain": [0, 1], "range": [1134, 1614]}, "axis": null},
   "x2": {"datum": 1}
  }},
 {"data": {"name": "crustIn"},
  "layer": [
   {"mark": {"type": "bar"},
    "encoding": {
     "x": {"field": "g", "type": "nominal", "sort": null, "scale": {"range": [1134, 1614], "paddingInner": 0.1, "paddingOuter": 0.08},
       "axis": {"title": null, "orient": "bottom", "offset": -215, "labelExpr": "split(datum.label, '\\n')", "labelAngle": 0, "labelFontSize": 20, "labelLineHeight": 21, "labelPadding": 5, "labelColor": "#1a1a1a", "labelOverlap": false, "domainColor": "#000000", "domainWidth": 4.5, "ticks": true, "tickBand": "extent", "tickSize": 6, "tickColor": "#222222", "grid": false, "zindex": 1}},
     "xOffset": {"field": "t", "type": "ordinal", "scale": {"paddingInner": 0.15, "paddingOuter": 0}},
     "y": {"field": "v", "type": "quantitative", "scale": {"domain": [0, 3.5], "range": [270, 64], "nice": false},
       "axis": {"orient": "left", "offset": -1134, "zindex": 1, "grid": false, "domain": false, "ticks": false, "tickSize": 0, "values": [0, 0.5, 1, 1.5, 2, 2.5, 3, 3.5], "labelExpr": "datum.value === 0 ? '0' : format(datum.value, '.1f')", "labelFontSize": 16, "labelPadding": 7, "labelColor": "#1a1a1a", "title": "MILLIONS DE TONNES", "titleFontSize": 19, "titleFontWeight": "bold", "titleColor": "#111111", "titleX": -48, "titleY": 167, "titleAngle": -90, "titleBaseline": "middle", "titleAlign": "center"}},
     "color": {"condition": [{"test": "datum.t === 1995", "value": "#5b8fcc"}, {"test": "datum.t === 2010", "value": "#b3446e"}], "value": "#1576c2"}
    }},
   {"transform": [{"filter": "datum.t === 2010"}],
    "mark": {"type": "text", "baseline": "alphabetic", "dy": -12, "fontSize": 22, "fontWeight": "bold", "color": "#111111"},
    "encoding": {
     "x": {"field": "g", "type": "nominal", "sort": null},
     "xOffset": {"field": "t", "type": "ordinal"},
     "y": {"field": "v", "type": "quantitative"},
     "text": {"field": "v", "type": "quantitative", "format": ",.1f"}
    }}
  ]}
]
},
{
"title": {"text": "PRODUCTION AQUACOLE MONDIALE DE MOLLUSQUES MARINS PAR GRAND PAYS PRODUCTEUR", "offset": 35},
"width": 1860, "height": 485,
"resolve": {"scale": {"x": "independent", "y": "independent", "xOffset": "independent"}, "axis": {"x": "independent", "y": "independent"}},
"layer": [
 {"data": {"name": "moll"},
  "layer": [
   {"mark": {"type": "bar"},
    "encoding": {
     "x": {"field": "g", "type": "nominal", "sort": null, "scale": {"paddingInner": 0.09, "paddingOuter": 0.1},
       "axis": {"title": null, "labelExpr": "split(datum.label, '\\n')", "labelAngle": 0, "labelFontSize": 22, "labelLineHeight": 23, "labelPadding": 14, "labelColor": "#1a1a1a", "labelLimit": 400, "labelOverlap": false, "domainColor": "#000000", "domainWidth": 4.5, "ticks": true, "tickBand": "extent", "tickSize": 7, "tickColor": "#222222", "tickWidth": 1.2, "grid": false, "zindex": 1}},
     "xOffset": {"field": "t", "type": "ordinal", "scale": {"paddingInner": 0.15, "paddingOuter": 0}},
     "y": {"field": "v", "type": "quantitative", "scale": {"domain": [0, 600], "nice": false},
       "axis": {"title": "MILLIERS DE TONNES", "values": [0,100,200,300,400,500,600], "format": ",d", "grid": true, "gridColor": "#555555", "gridWidth": 1.5, "domain": false, "ticks": false, "tickSize": 0, "labelFontSize": 26, "labelPadding": 32, "labelColor": "#1a1a1a", "titleFontSize": 30, "titleFontWeight": "bold", "titleColor": "#111111", "titleX": -130, "titleY": 242, "titleAngle": -90, "titleBaseline": "middle", "titleAlign": "center"}},
     "color": {"condition": [{"test": "datum.t === 1995", "value": "#5b8fcc"}, {"test": "datum.t === 2010", "value": "#b3446e"}], "value": "#1576c2"}
    }},
   {"transform": [{"filter": "datum.t === 2010"}],
    "mark": {"type": "text", "baseline": "alphabetic", "dy": -18, "fontSize": 24, "fontWeight": "bold", "color": "#111111"},
    "encoding": {
     "x": {"field": "g", "type": "nominal", "sort": null},
     "xOffset": {"field": "t", "type": "ordinal"},
     "y": {"field": "v", "type": "quantitative"},
     "text": {"field": "v", "type": "quantitative", "format": ",d"}
    }}
  ]},
 {"data": {"values": [{}]},
  "mark": {"type": "rect", "fill": "#ffffff", "stroke": "#4a4a4a", "strokeWidth": 1.8},
  "encoding": {
   "x": {"datum": 0, "type": "quantitative", "scale": {"domain": [0, 1], "range": [1052, 1641]}, "axis": null},
   "x2": {"datum": 1},
   "y": {"datum": 0, "type": "quantitative", "scale": {"domain": [0, 1], "range": [330, 24]}, "axis": null},
   "y2": {"datum": 1}
  }},
 {"data": {"values": [{"v": 10}, {"v": 20}]},
  "mark": {"type": "rule", "color": "#222222", "strokeWidth": 1.3},
  "encoding": {
   "y": {"field": "v", "type": "quantitative", "scale": {"domain": [0, 20], "range": [269, 64], "nice": false}, "axis": null},
   "x": {"datum": 0, "type": "quantitative", "scale": {"domain": [0, 1], "range": [1134, 1614]}, "axis": null},
   "x2": {"datum": 1}
  }},
 {"data": {"name": "mollIn"},
  "layer": [
   {"mark": {"type": "bar"},
    "encoding": {
     "x": {"field": "g", "type": "nominal", "sort": null, "scale": {"range": [1134, 1614], "paddingInner": 0.09, "paddingOuter": 0.08},
       "axis": {"title": null, "orient": "bottom", "offset": -216, "labelExpr": "split(datum.label, '\\n')", "labelAngle": 0, "labelFontSize": 20, "labelLineHeight": 21, "labelPadding": 5, "labelColor": "#1a1a1a", "labelOverlap": false, "domainColor": "#000000", "domainWidth": 4.5, "ticks": true, "tickBand": "extent", "tickSize": 6, "tickColor": "#222222", "grid": false, "zindex": 1}},
     "xOffset": {"field": "t", "type": "ordinal", "scale": {"paddingInner": 0.1, "paddingOuter": 0}},
     "y": {"field": "v", "type": "quantitative", "scale": {"domain": [0, 20], "range": [269, 64], "nice": false},
       "axis": {"orient": "left", "offset": -1134, "zindex": 1, "grid": false, "domain": false, "ticks": false, "tickSize": 0, "values": [0, 10, 20], "format": "d", "labelFontSize": 16, "labelPadding": 7, "labelColor": "#1a1a1a", "title": "MILLIONS DE TONNES", "titleFontSize": 19, "titleFontWeight": "bold", "titleColor": "#111111", "titleX": -48, "titleY": 167, "titleAngle": -90, "titleBaseline": "middle", "titleAlign": "center"}},
     "color": {"condition": [{"test": "datum.t === 1995", "value": "#5b8fcc"}, {"test": "datum.t === 2010", "value": "#b3446e"}], "value": "#1576c2"}
    }},
   {"transform": [{"filter": "datum.t === 2010"}],
    "mark": {"type": "text", "baseline": "alphabetic", "dy": -16, "fontSize": 22, "fontWeight": "bold", "color": "#111111"},
    "encoding": {
     "x": {"field": "g", "type": "nominal", "sort": null},
     "xOffset": {"field": "t", "type": "ordinal"},
     "y": {"field": "v", "type": "quantitative"},
     "text": {"field": "v", "type": "quantitative", "format": ".0f"}
    }}
  ]}
]
},
{
"title": {"text": "PRODUCTION AQUACOLE MONDIALE D’ALGUES PAR GRAND PAYS PRODUCTEUR", "offset": 32},
"width": 1860, "height": 485,
"resolve": {"scale": {"x": "independent", "y": "independent", "xOffset": "independent"}, "axis": {"x": "independent", "y": "independent"}},
"layer": [
 {"data": {"name": "alg"},
  "layer": [
   {"mark": {"type": "bar"},
    "encoding": {
     "x": {"field": "g", "type": "nominal", "sort": null, "scale": {"paddingInner": 0.09, "paddingOuter": 0.1},
       "axis": {"title": null, "labelExpr": "split(datum.label, '\\n')", "labelAngle": 0, "labelFontSize": 22, "labelLineHeight": 23, "labelPadding": 14, "labelColor": "#1a1a1a", "labelLimit": 400, "labelOverlap": false, "domainColor": "#000000", "domainWidth": 4.5, "ticks": true, "tickBand": "extent", "tickSize": 7, "tickColor": "#222222", "tickWidth": 1.2, "grid": false, "zindex": 1}},
     "xOffset": {"field": "t", "type": "ordinal", "scale": {"paddingInner": 0.15, "paddingOuter": 0}},
     "y": {"field": "v", "type": "quantitative", "scale": {"domain": [0, 2000], "nice": false},
       "axis": {"title": "MILLIERS DE TONNES", "values": [0,200,400,600,800,1000,1200,1400,1600,1800,2000], "format": ",d", "grid": true, "gridColor": "#555555", "gridWidth": 1.5, "domain": false, "ticks": false, "tickSize": 0, "labelFontSize": 26, "labelPadding": 32, "labelColor": "#1a1a1a", "titleFontSize": 30, "titleFontWeight": "bold", "titleColor": "#111111", "titleX": -130, "titleY": 242, "titleAngle": -90, "titleBaseline": "middle", "titleAlign": "center"}},
     "color": {"condition": [{"test": "datum.t === 1995", "value": "#5b8fcc"}, {"test": "datum.t === 2010", "value": "#b3446e"}], "value": "#1576c2"}
    }},
   {"transform": [{"filter": "datum.t === 2010"}],
    "mark": {"type": "text", "baseline": "alphabetic", "dy": -22, "fontSize": 24, "fontWeight": "bold", "color": "#111111"},
    "encoding": {
     "x": {"field": "g", "type": "nominal", "sort": null},
     "xOffset": {"field": "t", "type": "ordinal"},
     "y": {"field": "v", "type": "quantitative"},
     "text": {"field": "v", "type": "quantitative", "format": ",d"}
    }}
  ]},
 {"data": {"values": [{}]},
  "mark": {"type": "rect", "fill": "#ffffff", "stroke": "#4a4a4a", "strokeWidth": 1.8},
  "encoding": {
   "x": {"datum": 0, "type": "quantitative", "scale": {"domain": [0, 1], "range": [1052, 1641]}, "axis": null},
   "x2": {"datum": 1},
   "y": {"datum": 0, "type": "quantitative", "scale": {"domain": [0, 1], "range": [331, 23]}, "axis": null},
   "y2": {"datum": 1}
  }},
 {"data": {"values": [{"v": 10}, {"v": 20}, {"v": 30}]},
  "mark": {"type": "rule", "color": "#222222", "strokeWidth": 1.3},
  "encoding": {
   "y": {"field": "v", "type": "quantitative", "scale": {"domain": [0, 30], "range": [270, 64], "nice": false}, "axis": null},
   "x": {"datum": 0, "type": "quantitative", "scale": {"domain": [0, 1], "range": [1134, 1614]}, "axis": null},
   "x2": {"datum": 1}
  }},
 {"data": {"name": "algIn"},
  "layer": [
   {"mark": {"type": "bar"},
    "encoding": {
     "x": {"field": "g", "type": "nominal", "sort": null, "scale": {"range": [1134, 1614], "paddingInner": 0.095, "paddingOuter": 0.076},
       "axis": {"title": null, "orient": "bottom", "offset": -215, "labelExpr": "split(datum.label, '\\n')", "labelAngle": 0, "labelFontSize": 20, "labelLineHeight": 21, "labelPadding": 5, "labelColor": "#1a1a1a", "labelOverlap": false, "domainColor": "#000000", "domainWidth": 4.5, "ticks": true, "tickBand": "extent", "tickSize": 6, "tickColor": "#222222", "grid": false, "zindex": 1}},
     "xOffset": {"field": "t", "type": "ordinal", "scale": {"paddingInner": 0.12, "paddingOuter": 0}},
     "y": {"field": "v", "type": "quantitative", "scale": {"domain": [0, 30], "range": [270, 64], "nice": false},
       "axis": {"orient": "left", "offset": -1134, "zindex": 1, "grid": false, "domain": false, "ticks": false, "tickSize": 0, "values": [0, 10, 20, 30], "format": "d", "labelFontSize": 16, "labelPadding": 7, "labelColor": "#1a1a1a", "title": "MILLIONS DE TONNES", "titleFontSize": 19, "titleFontWeight": "bold", "titleColor": "#111111", "titleX": -48, "titleY": 167, "titleAngle": -90, "titleBaseline": "middle", "titleAlign": "center"}},
     "color": {"condition": [{"test": "datum.t === 1995", "value": "#5b8fcc"}, {"test": "datum.t === 2010", "value": "#b3446e"}], "value": "#1576c2"}
    }},
   {"transform": [{"filter": "datum.t === 2010"}],
    "mark": {"type": "text", "baseline": "alphabetic", "dy": -12, "fontSize": 22, "fontWeight": "bold", "color": "#111111"},
    "encoding": {
     "x": {"field": "g", "type": "nominal", "sort": null},
     "xOffset": {"field": "t", "type": "ordinal"},
     "y": {"field": "v", "type": "quantitative"},
     "text": {"field": "v", "type": "quantitative", "format": ",.1f"}
    }}
  ]}
]
}
]
}
